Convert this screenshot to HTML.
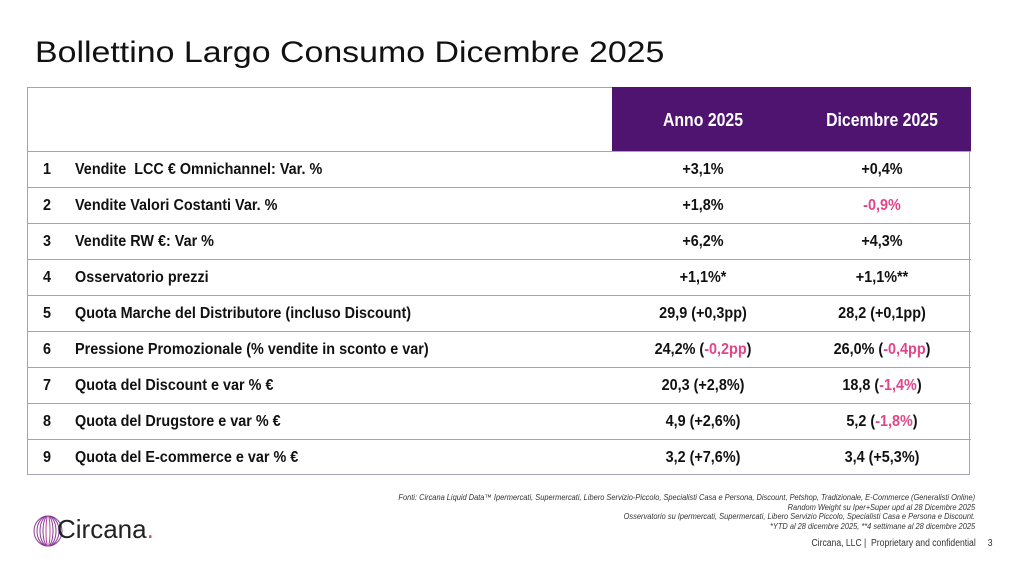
<!DOCTYPE html>
<html><head><meta charset="utf-8"><style>
body{margin:0;width:1024px;height:566px;background:#fff;position:relative;overflow:hidden;font-family:"Liberation Sans",sans-serif;}
.t{position:absolute;left:35px;top:36px;font-size:30px;color:#111;transform:scaleX(1.13);transform-origin:left;}
.tbl{position:absolute;left:27px;top:87px;width:943px;height:388px;border:1px solid #a7a3b5;box-sizing:border-box;}
.hdr{position:absolute;left:612px;top:87px;width:359px;height:64px;background:#4e1470;}
.h{position:absolute;top:110px;color:#fff;font:bold 18px "Liberation Sans",sans-serif;width:180px;text-align:center;transform:scaleX(0.88);}
.line{position:absolute;left:27px;width:944px;height:1px;background:#a7a3b5;}
.r{position:absolute;font:bold 16px "Liberation Sans",sans-serif;color:#111;white-space:pre;transform:scaleX(0.9);transform-origin:left;}
.c{width:180px;text-align:center;transform-origin:center;}
.p{color:#e0458a;}
.foot{position:absolute;right:49px;top:493px;text-align:right;font:italic 8px "Liberation Sans",sans-serif;color:#333;line-height:9.5px;transform:scaleX(0.93);transform-origin:right;}
.conf{position:absolute;right:32px;top:538px;font:10px "Liberation Sans",sans-serif;color:#333;transform:scaleX(0.86);transform-origin:right;}
.logo{position:absolute;left:57px;top:514px;font-size:26px;color:#222;}
</style></head><body>
<div class="t">Bollettino Largo Consumo Dicembre 2025</div>
<div class="tbl"></div>
<div class="hdr"></div>
<div class="h" style="left:613px">Anno 2025</div>
<div class="h" style="left:792px">Dicembre 2025</div>
<div class="line" style="top:151px"></div>
<div class="line" style="top:187px"></div>
<div class="line" style="top:223px"></div>
<div class="line" style="top:259px"></div>
<div class="line" style="top:295px"></div>
<div class="line" style="top:331px"></div>
<div class="line" style="top:367px"></div>
<div class="line" style="top:403px"></div>
<div class="line" style="top:439px"></div>

<div class="r" style="left:43px;top:161px">1</div><div class="r" style="left:75px;top:161px">Vendite  LCC € Omnichannel: Var. %</div>
<div class="r c" style="left:613px;top:161px">+3,1%</div><div class="r c" style="left:792px;top:161px">+0,4%</div>

<div class="r" style="left:43px;top:197px">2</div><div class="r" style="left:75px;top:197px">Vendite Valori Costanti Var. %</div>
<div class="r c" style="left:613px;top:197px">+1,8%</div><div class="r c p" style="left:792px;top:197px">-0,9%</div>

<div class="r" style="left:43px;top:233px">3</div><div class="r" style="left:75px;top:233px">Vendite RW €: Var %</div>
<div class="r c" style="left:613px;top:233px">+6,2%</div><div class="r c" style="left:792px;top:233px">+4,3%</div>

<div class="r" style="left:43px;top:269px">4</div><div class="r" style="left:75px;top:269px">Osservatorio prezzi</div>
<div class="r c" style="left:613px;top:269px">+1,1%*</div><div class="r c" style="left:792px;top:269px">+1,1%**</div>

<div class="r" style="left:43px;top:305px">5</div><div class="r" style="left:75px;top:305px">Quota Marche del Distributore (incluso Discount)</div>
<div class="r c" style="left:613px;top:305px">29,9 (+0,3pp)</div><div class="r c" style="left:792px;top:305px">28,2 (+0,1pp)</div>

<div class="r" style="left:43px;top:341px">6</div><div class="r" style="left:75px;top:341px">Pressione Promozionale (% vendite in sconto e var)</div>
<div class="r c" style="left:613px;top:341px">24,2% (<span class="p">-0,2pp</span>)</div><div class="r c" style="left:792px;top:341px">26,0% (<span class="p">-0,4pp</span>)</div>

<div class="r" style="left:43px;top:377px">7</div><div class="r" style="left:75px;top:377px">Quota del Discount e var % €</div>
<div class="r c" style="left:613px;top:377px">20,3 (+2,8%)</div><div class="r c" style="left:792px;top:377px">18,8 (<span class="p">-1,4%</span>)</div>

<div class="r" style="left:43px;top:413px">8</div><div class="r" style="left:75px;top:413px">Quota del Drugstore e var % €</div>
<div class="r c" style="left:613px;top:413px">4,9 (+2,6%)</div><div class="r c" style="left:792px;top:413px">5,2 (<span class="p">-1,8%</span>)</div>

<div class="r" style="left:43px;top:449px">9</div><div class="r" style="left:75px;top:449px">Quota del E-commerce e var % €</div>
<div class="r c" style="left:613px;top:449px">3,2 (+7,6%)</div><div class="r c" style="left:792px;top:449px">3,4 (+5,3%)</div>

<div class="foot">Fonti: Circana Liquid Data™ Ipermercati, Supermercati, Libero Servizio-Piccolo, Specialisti Casa e Persona, Discount, Petshop, Tradizionale, E-Commerce (Generalisti Online)<br>Random Weight su Iper+Super upd al 28 Dicembre 2025<br>Osservatorio su Ipermercati, Supermercati, Libero Servizio Piccolo, Specialisti Casa e Persona e Discount.<br>*YTD al 28 dicembre 2025, **4 settimane al 28 dicembre 2025</div>
<div class="conf">Circana, LLC |&nbsp; Proprietary and confidential &nbsp;&nbsp;&nbsp; 3</div>
<svg style="position:absolute;left:32px;top:514px" width="32" height="34" viewBox="0 0 32 34">
<g fill="none" stroke="#8a3d9a" stroke-width="1"><ellipse cx="16" cy="17" rx="14" ry="15"/><ellipse cx="16" cy="17" rx="11" ry="15"/><ellipse cx="16" cy="17" rx="8" ry="15"/><ellipse cx="16" cy="17" rx="5" ry="15"/><ellipse cx="16" cy="17" rx="2" ry="15" stroke="#c04a9a"/></g></svg>
<div class="logo">Circana<span style="color:#e0458a">.</span></div>
</body></html>
